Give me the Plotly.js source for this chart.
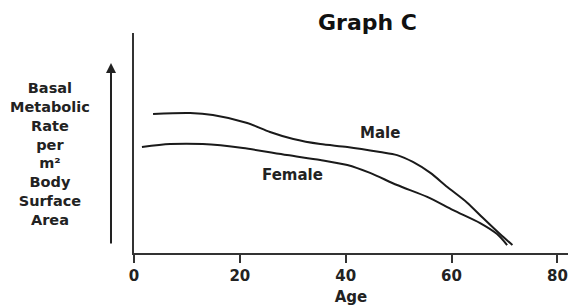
<!DOCTYPE html>
<html>
<head>
<meta charset="utf-8">
<script src="https://cdn.plot.ly/plotly-3.0.1.min.js"></script>
<style>html,body{margin:0;padding:0;background:#fff;}#chart{width:571px;height:306px;}</style>
</head>
<body>
<div id="chart"></div>
<script>
const maleAge = [3.6, 10.6, 14.9, 21.4, 25.7, 30.1, 35.2, 40.3, 46.5, 49.7, 52.7, 56.0, 59.2, 62.9, 65.9, 69.2, 71.5];
const maleBMR = [63.2, 63.6, 62.7, 59.1, 55.0, 51.8, 49.5, 48.2, 45.9, 44.5, 41.4, 36.4, 30.0, 23.0, 16.0, 8.5, 3.6];
const femaleAge = [1.5, 6.8, 13.0, 20.6, 28.9, 35.2, 40.3, 44.6, 49.7, 55.4, 60.3, 65.4, 68.6, 70.5];
const femaleBMR = [48.2, 49.5, 49.5, 47.7, 44.5, 42.3, 40.0, 36.4, 30.9, 25.5, 19.5, 13.6, 8.6, 3.6];
const xTicks = [0, 20, 40, 60, 80];
const xTickLabels = ['0', '20', '40', '60', '80'];

const F = 'DejaVu Sans, Verdana, sans-serif';
const lineStyle = {color: '#1a1a1a', width: 2, shape: 'spline', smoothing: 0.8};

const traces = [
  {x: maleAge, y: maleBMR, mode: 'lines', line: lineStyle, name: 'Male', hoverinfo: 'skip'},
  {x: femaleAge, y: femaleBMR, mode: 'lines', line: lineStyle, name: 'Female', hoverinfo: 'skip'}
];

const layout = {
  width: 571, height: 306,
  margin: {l: 134, r: 3, t: 33, b: 53},
  paper_bgcolor: '#fff', plot_bgcolor: '#fff',
  showlegend: false,
  font: {family: F, color: '#222'},
  xaxis: {
    range: [0, 82], tickvals: xTicks, ticktext: xTickLabels.map(t => '<b>' + t + '</b>'),
    showgrid: false, zeroline: false, showline: true, linecolor: '#333', linewidth: 2,
    ticks: 'outside', ticklen: 8, tickwidth: 2, tickcolor: '#333',
    tickfont: {family: F, size: 15, color: '#222'},
    title: {text: '<b>Age</b>', font: {family: F, size: 15, color: '#222'}, standoff: 8},
    fixedrange: true
  },
  yaxis: {
    range: [0, 100], showticklabels: false, ticks: '', showgrid: false, zeroline: false,
    showline: true, linecolor: '#333', linewidth: 2, fixedrange: true
  },
  annotations: [
    {xref: 'paper', yref: 'paper', x: 0.539, y: 1.0, yshift: 11, text: '<b>Graph C</b>', showarrow: false,
     font: {family: F, size: 22, color: '#111'}, xanchor: 'center', yanchor: 'middle'},
    {xref: 'paper', yref: 'paper', x: -0.193, y: 0.45, text: '<b>Basal<br>Metabolic<br>Rate<br>per<br>m²<br>Body<br>Surface<br>Area</b>',
     showarrow: false, font: {family: F, size: 14.5, color: '#222'}, align: 'center', xanchor: 'center', yanchor: 'middle'},
    {xref: 'paper', yref: 'paper', x: -0.053, y: 0.864, text: '', showarrow: true, arrowhead: 2, arrowsize: 1,
     arrowwidth: 2, arrowcolor: '#222', ax: 0, ay: 182, axref: 'pixel', ayref: 'pixel'},
    {x: 46.4, y: 54.5, text: '<b>Male</b>', showarrow: false, font: {family: F, size: 15, color: '#222'}},
    {x: 30.0, y: 35.5, text: '<b>Female</b>', showarrow: false, font: {family: F, size: 15, color: '#222'}}
  ]
};

Plotly.newPlot('chart', traces, layout, {staticPlot: true, displayModeBar: false});
</script>
</body>
</html>
